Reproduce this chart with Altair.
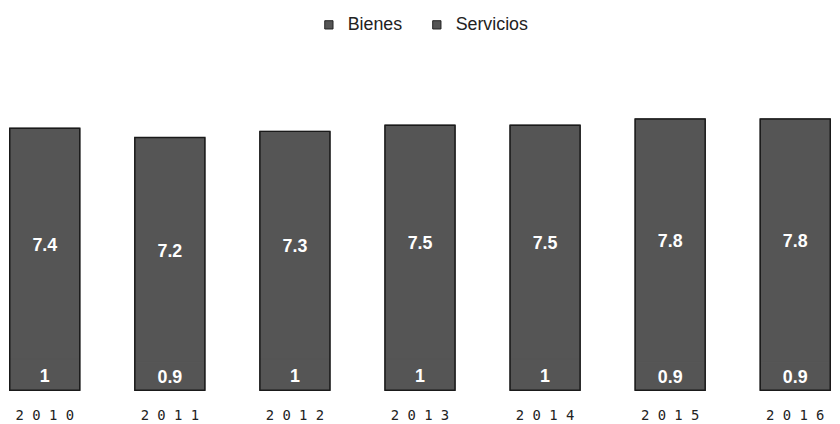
import altair as alt
import pandas as pd

years = ["2010", "2011", "2012", "2013", "2014", "2015", "2016"]
bienes = [1, 0.9, 1, 1, 1, 0.9, 0.9]
servicios = [7.4, 7.2, 7.3, 7.5, 7.5, 7.8, 7.8]
series = ["Bienes", "Servicios"]

rows = []
for i, y in enumerate(years):
    rows.append({"year": y, "serie": series[0], "value": bienes[i], "ord": 0})
    rows.append({"year": y, "serie": series[1], "value": servicios[i], "ord": 1})
df = pd.DataFrame(rows)

yscale = alt.Scale(domain=[0, 10])

base = alt.Chart(df).transform_stack(
    stack="value", groupby=["year"], as_=["v0", "v1"],
    sort=[alt.SortField("ord", order="ascending")]
).transform_calculate(mid="(datum.v0 + datum.v1) / 2")

x = alt.X("year:N", sort=years, title=None,
          scale=alt.Scale(paddingInner=0.44, paddingOuter=0.014),
          axis=alt.Axis(labelAngle=0, domain=False, ticks=False, grid=False,
                        labelFont="DejaVu Sans Mono", labelFontSize=14,
                        labelColor="#222222", labelPadding=18,
                        labelExpr="join(split(datum.label, ''), ' ')"))

bars = base.mark_bar(stroke="#555555", strokeWidth=1).encode(
    x=x,
    y=alt.Y("v0:Q", scale=yscale, axis=None),
    y2="v1:Q",
    color=alt.Color("serie:N", sort=series,
                    scale=alt.Scale(domain=series, range=["#555555", "#555555"]),
                    legend=alt.Legend(title=None, orient="none", direction="horizontal",
                                      legendX=315, legendY=-63, padding=0,
                                      symbolType="square", symbolSize=70,
                                      symbolStrokeColor="#222222", symbolStrokeWidth=1,
                                      labelFont="Liberation Sans", labelFontSize=18,
                                      labelColor="#222222", labelOffset=10,
                                      columnPadding=25)),
)

outline = alt.Chart(df).transform_aggregate(
    total="sum(value)", groupby=["year"]
).mark_bar(fill=None, stroke="#1a1a1a", strokeWidth=1.5).encode(
    x=alt.X("year:N", sort=years),
    y=alt.Y("total:Q", scale=yscale),
)

labels = base.mark_text(color="white", fontWeight="bold", fontSize=18, dy=2,
                        font="Liberation Sans").encode(
    x=alt.X("year:N", sort=years),
    y=alt.Y("mid:Q", scale=yscale),
    text=alt.Text("value:Q", format=".1~f"),
)

chart = alt.layer(bars, outline, labels).properties(
    width=832, height=315,
    background="white",
    autosize=alt.AutoSizeParams(type="none"),
    padding={"top": 69, "left": 0, "right": 0, "bottom": 32},
).configure_view(stroke=None)

chart.save("out.html", embed_options={"renderer": "svg", "actions": False})
